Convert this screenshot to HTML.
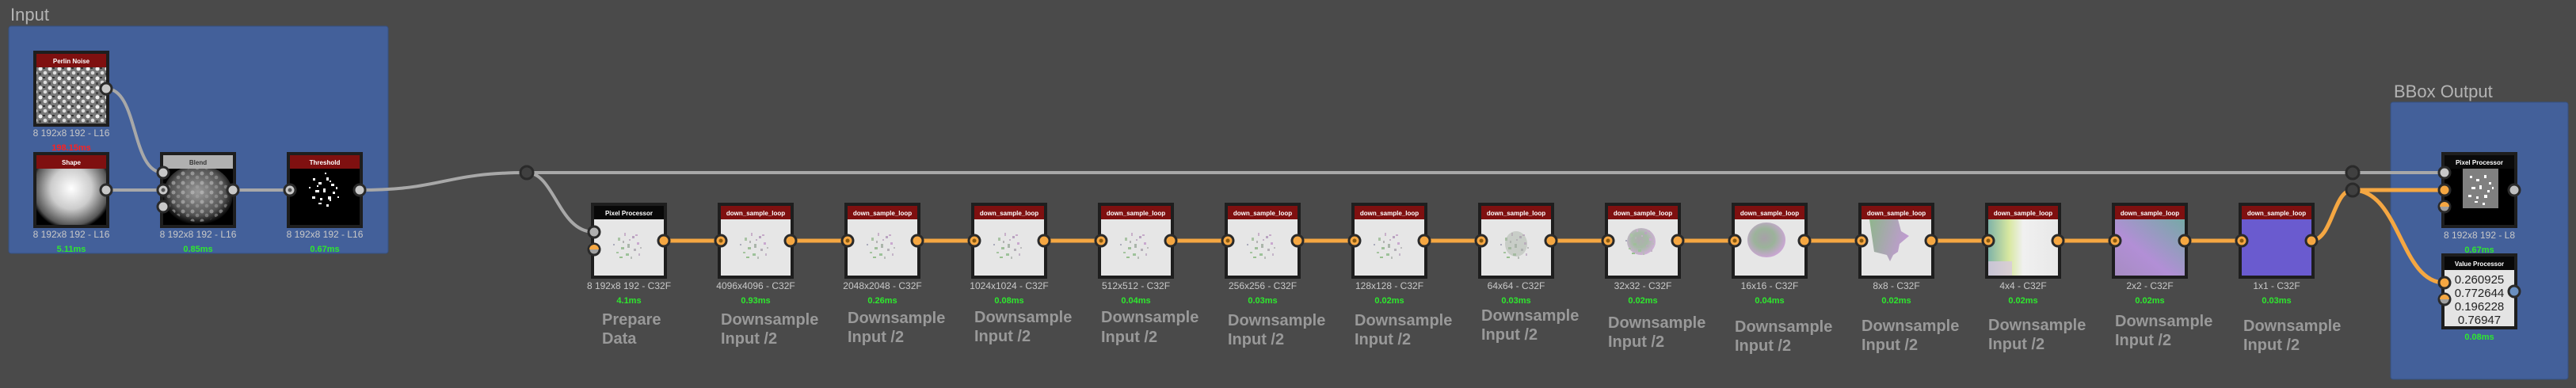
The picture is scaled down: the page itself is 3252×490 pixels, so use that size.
<!DOCTYPE html>
<html><head><meta charset="utf-8"><style>
html,body{margin:0;padding:0;background:#4a4a4a;}
svg{display:block;font-family:"Liberation Sans",sans-serif;}
</style></head><body>
<svg width="3252" height="490" viewBox="0 0 3252 490" xmlns="http://www.w3.org/2000/svg">
<defs>
<clipPath id="shapeclip"><rect x="46" y="213" width="88" height="71"/></clipPath>
<radialGradient id="sphere" cx="50%" cy="50%" r="50%"><stop offset="0" stop-color="#fff"/><stop offset="0.5" stop-color="#ccc"/><stop offset="0.9" stop-color="#555"/><stop offset="1" stop-color="#000"/></radialGradient>
<radialGradient id="blendg" cx="50%" cy="45%" r="55%"><stop offset="0" stop-color="#999"/><stop offset="0.7" stop-color="#555"/><stop offset="1" stop-color="#000"/></radialGradient>
<pattern id="noise" width="12" height="12" patternUnits="userSpaceOnUse"><rect width="12" height="12" fill="#777"/><circle cx="3" cy="3" r="2.5" fill="#eee"/><circle cx="9" cy="8" r="2.3" fill="#ddd"/><rect x="6" y="1" width="3" height="2" fill="#333"/><rect x="1" y="8" width="3" height="3" fill="#444"/></pattern>
<pattern id="noise2" width="12" height="12" patternUnits="userSpaceOnUse"><rect width="12" height="12" fill="transparent"/><circle cx="3" cy="3" r="2.5" fill="#ccc" opacity="0.5"/><circle cx="9" cy="8" r="2.3" fill="#aaa" opacity="0.5"/></pattern>
<g id="speck">
<rect x="-14" y="-10" width="3" height="4" fill="#a9c3a4"/><rect x="-6" y="-16" width="2" height="4" fill="#c7b0c9"/><rect x="4" y="-12" width="3" height="3" fill="#b9a3c0"/><rect x="10" y="-4" width="3" height="3" fill="#c9a8cf"/><rect x="-10" y="2" width="4" height="3" fill="#9fbf9a"/><rect x="-2" y="-2" width="3" height="5" fill="#aab5aa"/><rect x="6" y="4" width="3" height="3" fill="#b5b0b8"/><rect x="-16" y="8" width="3" height="2" fill="#a6c4a0"/><rect x="-4" y="10" width="4" height="3" fill="#9ec29b"/><rect x="2" y="14" width="2" height="3" fill="#b8bdb8"/><rect x="12" y="10" width="2" height="3" fill="#c4b4c8"/><rect x="-20" y="-2" width="2" height="2" fill="#aab"/><rect x="-8" y="-6" width="2" height="3" fill="#b4b4b4"/><rect x="0" y="-8" width="2" height="2" fill="#c3b1c6"/><rect x="8" y="-14" width="3" height="2" fill="#c6aac9"/><rect x="-12" y="14" width="4" height="2" fill="#98c090"/><rect x="14" y="2" width="2" height="2" fill="#bbb"/>
</g>
<linearGradient id="g2x2" x1="1" y1="0" x2="0" y2="1"><stop offset="0" stop-color="#76a9a6"/><stop offset="0.6" stop-color="#b28fd6"/><stop offset="1" stop-color="#a68cc2"/></linearGradient>
<radialGradient id="blob" cx="45%" cy="45%" r="55%"><stop offset="0" stop-color="#a7a0a8"/><stop offset="0.5" stop-color="#9bb39a"/><stop offset="1" stop-color="#c9a6d2"/></radialGradient>
<linearGradient id="g8" x1="0" y1="0" x2="1" y2="0.3"><stop offset="0" stop-color="#8fb58c"/><stop offset="1" stop-color="#c09bd1"/></linearGradient>
<linearGradient id="g4" x1="0" y1="0" x2="1" y2="0"><stop offset="0" stop-color="#7fb3a8"/><stop offset="0.3" stop-color="#d8e8a0"/><stop offset="0.5" stop-color="#f0f0f0"/><stop offset="1" stop-color="#e8e8e8"/></linearGradient>
</defs>

<text x="13" y="26" font-size="22" fill="#b4b4b4">Input</text>
<rect x="11" y="33" width="479" height="287" rx="3" fill="#43609a" stroke="#36507f"/>
<text x="3022" y="123" font-size="22" fill="#b4b4b4">BBox Output</text>
<rect x="3018" y="129" width="224" height="350" rx="3" fill="#43609a" stroke="#36507f"/>

<g fill="none" stroke="#a8a8a8" stroke-width="4">
<path d="M134 112 C175 112 165 218 206 218"/>
<path d="M134 240 L206 240"/>
<path d="M294 240 L366 240"/>
<path d="M454 240 C560 240 560 218 665 218"/>
<path d="M665 218 L2970 218"/>
<path d="M2970 218 L3086 218"/>
<path d="M665 218 C700 218 705 293 750 293"/>
</g>
<g fill="none" stroke="#f5a742" stroke-width="5">
<path d="M838 304 H910 M998 304 H1070 M1158 304 H1230 M1318 304 H1390 M1478 304 H1550 M1638 304 H1710 M1798 304 H1870 M1958 304 H2030 M2118 304 H2190 M2278 304 H2350 M2438 304 H2510 M2598 304 H2670 M2758 304 H2830"/>
<path d="M2917 304 C2945 304 2945 240 2970 240"/>
<path d="M2970 240 L3086 240"/>
<path d="M2970 240 C3030 240 3030 357 3086 357"/>
</g>

<g font-weight="bold" text-anchor="middle">
<rect x="42" y="64" width="96" height="96" fill="#1e1e1e"/>
<rect x="46" y="68" width="88" height="17" fill="#7f1010"/>
<text x="90" y="80" font-size="8" fill="#fff">Perlin Noise</text>
<rect x="46" y="85" width="88" height="71" fill="url(#noise)"/>
<rect x="42" y="192" width="96" height="96" fill="#1e1e1e"/>
<rect x="46" y="213" width="88" height="71" fill="#000"/>
<circle cx="90" cy="238" r="52" fill="url(#sphere)" clip-path="url(#shapeclip)"/>
<rect x="46" y="196" width="88" height="17" fill="#7f1010"/>
<text x="90" y="208" font-size="8" fill="#fff">Shape</text>
<rect x="202" y="192" width="96" height="96" fill="#1e1e1e"/>
<rect x="206" y="213" width="88" height="71" fill="#000"/>
<ellipse cx="250" cy="246" rx="44" ry="38" fill="url(#blendg)"/>
<ellipse cx="250" cy="246" rx="40" ry="34" fill="url(#noise2)"/>
<rect x="206" y="196" width="88" height="17" fill="#b0b0b0"/>
<text x="250" y="208" font-size="8" fill="#333">Blend</text>
<rect x="362" y="192" width="96" height="96" fill="#1e1e1e"/>
<rect x="366" y="196" width="88" height="17" fill="#7f1010"/>
<text x="410" y="208" font-size="8" fill="#fff">Threshold</text>
<rect x="366" y="213" width="88" height="71" fill="#000"/>
<g fill="#fff"><rect x="395" y="225" width="3" height="3"/><rect x="402" y="230" width="4" height="3"/><rect x="412" y="224" width="3" height="4"/><rect x="418" y="232" width="4" height="3"/><rect x="398" y="240" width="5" height="3"/><rect x="408" y="238" width="3" height="5"/><rect x="420" y="242" width="3" height="3"/><rect x="394" y="248" width="4" height="3"/><rect x="404" y="250" width="3" height="3"/><rect x="414" y="248" width="4" height="4"/><rect x="402" y="256" width="4" height="2"/><rect x="412" y="258" width="3" height="3"/><rect x="424" y="236" width="2" height="3"/><rect x="390" y="236" width="2" height="2"/><rect x="410" y="218" width="2" height="2"/><rect x="416" y="252" width="2" height="2"/><rect x="426" y="248" width="2" height="2"/><rect x="400" y="234" width="2" height="2"/><rect x="416" y="228" width="2" height="2"/></g>
</g>
<g font-size="12" fill="#c8c8c8" text-anchor="middle">
<text x="90" y="172">8 192x8 192 - L16</text>
<text x="90" y="300">8 192x8 192 - L16</text>
<text x="250" y="300">8 192x8 192 - L16</text>
<text x="410" y="300">8 192x8 192 - L16</text>
<text x="3130" y="301">8 192x8 192 - L8</text>
</g>
<g font-size="11" font-weight="bold" text-anchor="middle" fill="#2ee82e">
<text x="90" y="190" fill="#ff2020">198.15ms</text>
<text x="90" y="318">5.11ms</text>
<text x="250" y="318">0.85ms</text>
<text x="410" y="318">0.67ms</text>
<text x="3130" y="319">0.67ms</text>
<text x="3130" y="429">0.08ms</text>
</g>

<g>
<rect x="746" y="256" width="96" height="96" fill="#1e1e1e"/><rect x="750" y="260" width="88" height="17" fill="#080808"/><rect x="750" y="277" width="88" height="71" fill="#e6e6e6"/><use href="#speck" x="794" y="310"/>
<rect x="906" y="256" width="96" height="96" fill="#1e1e1e"/><rect x="910" y="260" width="88" height="17" fill="#7f1010"/><rect x="910" y="277" width="88" height="71" fill="#e6e6e6"/><use href="#speck" x="954" y="310"/>
<rect x="1066" y="256" width="96" height="96" fill="#1e1e1e"/><rect x="1070" y="260" width="88" height="17" fill="#7f1010"/><rect x="1070" y="277" width="88" height="71" fill="#e6e6e6"/><use href="#speck" x="1114" y="310"/>
<rect x="1226" y="256" width="96" height="96" fill="#1e1e1e"/><rect x="1230" y="260" width="88" height="17" fill="#7f1010"/><rect x="1230" y="277" width="88" height="71" fill="#e6e6e6"/><use href="#speck" x="1274" y="310"/>
<rect x="1386" y="256" width="96" height="96" fill="#1e1e1e"/><rect x="1390" y="260" width="88" height="17" fill="#7f1010"/><rect x="1390" y="277" width="88" height="71" fill="#e6e6e6"/><use href="#speck" x="1434" y="310"/>
<rect x="1546" y="256" width="96" height="96" fill="#1e1e1e"/><rect x="1550" y="260" width="88" height="17" fill="#7f1010"/><rect x="1550" y="277" width="88" height="71" fill="#e6e6e6"/><use href="#speck" x="1594" y="310"/>
<rect x="1706" y="256" width="96" height="96" fill="#1e1e1e"/><rect x="1710" y="260" width="88" height="17" fill="#7f1010"/><rect x="1710" y="277" width="88" height="71" fill="#e6e6e6"/><use href="#speck" x="1754" y="310"/>
<rect x="1866" y="256" width="96" height="96" fill="#1e1e1e"/><rect x="1870" y="260" width="88" height="17" fill="#7f1010"/><rect x="1870" y="277" width="88" height="71" fill="#e6e6e6"/><use href="#speck" x="1914" y="310"/><ellipse cx="1914" cy="308" rx="14" ry="16" fill="#a9b4a8" opacity="0.5"/>
<rect x="2026" y="256" width="96" height="96" fill="#1e1e1e"/><rect x="2030" y="260" width="88" height="17" fill="#7f1010"/><rect x="2030" y="277" width="88" height="71" fill="#e6e6e6"/><ellipse cx="2072" cy="305" rx="18" ry="17" fill="url(#blob)" opacity="0.85"/><use href="#speck" x="2072" y="305"/>
<rect x="2186" y="256" width="96" height="96" fill="#1e1e1e"/><rect x="2190" y="260" width="88" height="17" fill="#7f1010"/><rect x="2190" y="277" width="88" height="71" fill="#e6e6e6"/><ellipse cx="2230" cy="303" rx="24" ry="22" fill="url(#blob)"/>
<rect x="2346" y="256" width="96" height="96" fill="#1e1e1e"/><rect x="2350" y="260" width="88" height="17" fill="#7f1010"/><rect x="2350" y="277" width="88" height="71" fill="#e6e6e6"/><path d="M2360 277 H2396 L2400 292 L2410 298 L2398 308 L2396 318 L2390 322 L2386 330 L2382 322 L2366 318 Z" fill="url(#g8)"/>
<rect x="2506" y="256" width="96" height="96" fill="#1e1e1e"/><rect x="2510" y="260" width="88" height="17" fill="#7f1010"/><rect x="2510" y="277" width="88" height="71" fill="url(#g4)"/><rect x="2510" y="330" width="30" height="18" fill="#d8c8e0" opacity="0.8"/>
<rect x="2666" y="256" width="96" height="96" fill="#1e1e1e"/><rect x="2670" y="260" width="88" height="17" fill="#7f1010"/><rect x="2670" y="277" width="88" height="71" fill="url(#g2x2)"/>
<rect x="2826" y="256" width="96" height="96" fill="#1e1e1e"/><rect x="2830" y="260" width="88" height="17" fill="#7f1010"/><rect x="2830" y="277" width="88" height="71" fill="#6a5bcf"/>
</g>
<g font-size="8" font-weight="bold" fill="#fff" text-anchor="middle">
<text x="794" y="272">Pixel Processor</text>
<text x="954" y="272">down_sample_loop</text><text x="1114" y="272">down_sample_loop</text><text x="1274" y="272">down_sample_loop</text><text x="1434" y="272">down_sample_loop</text><text x="1594" y="272">down_sample_loop</text><text x="1754" y="272">down_sample_loop</text><text x="1914" y="272">down_sample_loop</text><text x="2074" y="272">down_sample_loop</text><text x="2234" y="272">down_sample_loop</text><text x="2394" y="272">down_sample_loop</text><text x="2554" y="272">down_sample_loop</text><text x="2714" y="272">down_sample_loop</text><text x="2874" y="272">down_sample_loop</text>
</g>
<g font-size="12" fill="#c8c8c8" text-anchor="middle">
<text x="794" y="365">8 192x8 192 - C32F</text><text x="954" y="365">4096x4096 - C32F</text><text x="1114" y="365">2048x2048 - C32F</text><text x="1274" y="365">1024x1024 - C32F</text><text x="1434" y="365">512x512 - C32F</text><text x="1594" y="365">256x256 - C32F</text><text x="1754" y="365">128x128 - C32F</text><text x="1914" y="365">64x64 - C32F</text><text x="2074" y="365">32x32 - C32F</text><text x="2234" y="365">16x16 - C32F</text><text x="2394" y="365">8x8 - C32F</text><text x="2554" y="365">4x4 - C32F</text><text x="2714" y="365">2x2 - C32F</text><text x="2874" y="365">1x1 - C32F</text>
</g>
<g font-size="11" font-weight="bold" fill="#2ee82e" text-anchor="middle">
<text x="794" y="383">4.1ms</text><text x="954" y="383">0.93ms</text><text x="1114" y="383">0.26ms</text><text x="1274" y="383">0.08ms</text><text x="1434" y="383">0.04ms</text><text x="1594" y="383">0.03ms</text><text x="1754" y="383">0.02ms</text><text x="1914" y="383">0.03ms</text><text x="2074" y="383">0.02ms</text><text x="2234" y="383">0.04ms</text><text x="2394" y="383">0.02ms</text><text x="2554" y="383">0.02ms</text><text x="2714" y="383">0.02ms</text><text x="2874" y="383">0.03ms</text>
</g>
<g font-size="20" font-weight="bold" fill="#999">
<text x="760" y="410">Prepare</text><text x="760" y="434">Data</text>
<text x="910" y="410">Downsample</text><text x="910" y="434">Input /2</text>
<text x="1070" y="408">Downsample</text><text x="1070" y="432">Input /2</text>
<text x="1230" y="407">Downsample</text><text x="1230" y="431">Input /2</text>
<text x="1390" y="407">Downsample</text><text x="1390" y="432">Input /2</text>
<text x="1550" y="411">Downsample</text><text x="1550" y="435">Input /2</text>
<text x="1710" y="411">Downsample</text><text x="1710" y="435">Input /2</text>
<text x="1870" y="405">Downsample</text><text x="1870" y="429">Input /2</text>
<text x="2030" y="414">Downsample</text><text x="2030" y="438">Input /2</text>
<text x="2190" y="419">Downsample</text><text x="2190" y="443">Input /2</text>
<text x="2350" y="418">Downsample</text><text x="2350" y="442">Input /2</text>
<text x="2510" y="417">Downsample</text><text x="2510" y="441">Input /2</text>
<text x="2670" y="412">Downsample</text><text x="2670" y="436">Input /2</text>
<text x="2832" y="418">Downsample</text><text x="2832" y="442">Input /2</text>
</g>

<rect x="3082" y="192" width="96" height="96" fill="#1e1e1e"/>
<rect x="3086" y="196" width="88" height="88" fill="#000"/>
<rect x="3086" y="196" width="88" height="17" fill="#0a0a0a"/>
<text x="3130" y="208" font-size="8" font-weight="bold" fill="#fff" text-anchor="middle">Pixel Processor</text>
<rect x="3109" y="213" width="45" height="50" fill="#808080"/>
<g fill="#fff"><rect x="3118" y="222" width="3" height="3"/><rect x="3126" y="226" width="4" height="3"/><rect x="3136" y="221" width="3" height="4"/><rect x="3142" y="230" width="3" height="3"/><rect x="3120" y="236" width="5" height="3"/><rect x="3130" y="234" width="3" height="5"/><rect x="3140" y="240" width="3" height="3"/><rect x="3116" y="246" width="4" height="3"/><rect x="3126" y="248" width="3" height="3"/><rect x="3136" y="246" width="4" height="4"/><rect x="3124" y="254" width="4" height="2"/><rect x="3134" y="256" width="3" height="3"/><rect x="3146" y="236" width="2" height="3"/></g>
<rect x="3082" y="320" width="96" height="96" fill="#1e1e1e"/>
<rect x="3086" y="324" width="88" height="17" fill="#080808"/>
<text x="3130" y="336" font-size="8" font-weight="bold" fill="#fff" text-anchor="middle">Value Processor</text>
<rect x="3086" y="341" width="88" height="71" fill="#e4e4e4"/>
<g font-size="15" fill="#222" text-anchor="middle">
<text x="3130" y="358">0.260925</text><text x="3130" y="375">0.772644</text><text x="3130" y="392">0.196228</text><text x="3130" y="409">0.76947</text>
</g>

<g stroke="#2a2a2a" stroke-width="3">
<circle cx="134" cy="112" r="7" fill="#c8c8c8"/>
<circle cx="134" cy="240" r="7" fill="#c8c8c8"/>
<circle cx="206" cy="218" r="7" fill="#c8c8c8"/>
<circle cx="206" cy="240" r="7" fill="#c8c8c8"/>
<circle cx="206" cy="261" r="7" fill="#c8c8c8"/>
<circle cx="294" cy="240" r="7" fill="#c8c8c8"/>
<circle cx="366" cy="240" r="7" fill="#c8c8c8"/>
<circle cx="454" cy="240" r="7" fill="#c8c8c8"/>
<circle cx="665" cy="218" r="8" fill="#404040"/>
<circle cx="2970" cy="218" r="8" fill="#404040"/>
<circle cx="2970" cy="240" r="8" fill="#404040"/>
<circle cx="750" cy="293" r="7" fill="#b0b0b0"/>
<circle cx="750" cy="315" r="7" fill="#a0a0a0"/>
<circle cx="3086" cy="218" r="7" fill="#c8c8c8"/>
<circle cx="3086" cy="240" r="7" fill="#f5a742"/>
<circle cx="3086" cy="261" r="7" fill="#a0a0a0"/>
<circle cx="3174" cy="240" r="7" fill="#c0c0c0"/>
<circle cx="3086" cy="357" r="7" fill="#f5a742"/>
<circle cx="3086" cy="378" r="7" fill="#a0a0a0"/>
<circle cx="3174" cy="368" r="7" fill="#6a8fc0"/>
<g fill="#f5a742">
<circle cx="838" cy="304" r="7"/>
<circle cx="910" cy="304" r="7"/><circle cx="998" cy="304" r="7"/>
<circle cx="1070" cy="304" r="7"/><circle cx="1158" cy="304" r="7"/>
<circle cx="1230" cy="304" r="7"/><circle cx="1318" cy="304" r="7"/>
<circle cx="1390" cy="304" r="7"/><circle cx="1478" cy="304" r="7"/>
<circle cx="1550" cy="304" r="7"/><circle cx="1638" cy="304" r="7"/>
<circle cx="1710" cy="304" r="7"/><circle cx="1798" cy="304" r="7"/>
<circle cx="1870" cy="304" r="7"/><circle cx="1958" cy="304" r="7"/>
<circle cx="2030" cy="304" r="7"/><circle cx="2118" cy="304" r="7"/>
<circle cx="2190" cy="304" r="7"/><circle cx="2278" cy="304" r="7"/>
<circle cx="2350" cy="304" r="7"/><circle cx="2438" cy="304" r="7"/>
<circle cx="2510" cy="304" r="7"/><circle cx="2598" cy="304" r="7"/>
<circle cx="2670" cy="304" r="7"/><circle cx="2758" cy="304" r="7"/>
<circle cx="2830" cy="304" r="7"/><circle cx="2918" cy="304" r="7"/>
</g>
</g>
<g>
<path d="M744 315 A6 6 0 0 1 756 315 Z" fill="#f5a742"/>
<path d="M3080 261 A6 6 0 0 1 3092 261 Z" fill="#f5a742"/>
<path d="M3080 378 A6 6 0 0 1 3092 378 Z" fill="#f5a742"/>
<g fill="#555"><circle cx="206" cy="240" r="2.5"/><circle cx="366" cy="240" r="2.5"/></g>
<g fill="#8a5a10"><circle cx="910" cy="304" r="2.5"/><circle cx="1070" cy="304" r="2.5"/><circle cx="1230" cy="304" r="2.5"/><circle cx="1390" cy="304" r="2.5"/><circle cx="1550" cy="304" r="2.5"/><circle cx="1710" cy="304" r="2.5"/><circle cx="1870" cy="304" r="2.5"/><circle cx="2030" cy="304" r="2.5"/><circle cx="2190" cy="304" r="2.5"/><circle cx="2350" cy="304" r="2.5"/><circle cx="2510" cy="304" r="2.5"/><circle cx="2670" cy="304" r="2.5"/><circle cx="2830" cy="304" r="2.5"/></g>
</g>
</svg>
</body></html>
